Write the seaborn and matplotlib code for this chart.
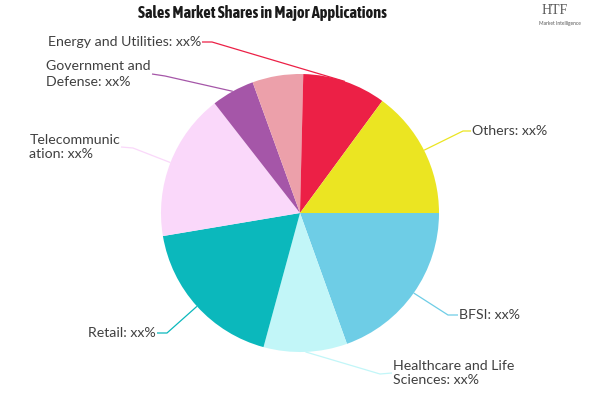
import numpy as np
import matplotlib
matplotlib.use("Agg")
import matplotlib.pyplot as plt
from matplotlib import font_manager
import seaborn as sns

# 饼图数据（顺时针，从正东方向开始）
segments = ["BFSI", "Healthcare and Life Sciences", "Retail", "Telecommunication",
            "Government and Defense", "", "Energy and Utilities", "Others"]
shares = [19.5, 9.7, 18.1, 17.1, 5.0, 5.9, 9.7, 14.9]
label_texts = ["BFSI: xx%", "Healthcare and Life\nSciences: xx%", "Retail: xx%",
               "Telecommunic\nation: xx%", "Government and\nDefense: xx%", "",
               "Energy and Utilities: xx%", "Others: xx%"]
colors = ["#6ecde6", "#c2f6f8", "#0bb8bc", "#fad8fa", "#a556a8",
          "#eca0aa", "#ec2046", "#ebe522"]

sns.set_theme(style="white")
plt.rcParams["font.family"] = ["Lato", "DejaVu Sans"]

# 标题用窄体字
narrow = [f for f in font_manager.fontManager.ttflist
          if ("Narrow" in f.name or "Condensed" in f.name)]
narrow.sort(key=lambda f: 0 if f.weight in ("bold", 700) else 1)
title_family = [narrow[0].name, "DejaVu Sans"] if narrow else ["DejaVu Sans"]

fig = plt.figure(figsize=(6, 4), dpi=100)
ax = fig.add_axes([0, 0, 1, 1])

cx, cy, r = 300, 400 - 213, 139
wedges, _ = ax.pie(shares, colors=sns.color_palette(colors), startangle=0,
                   counterclock=False, center=(cx, cy), radius=r,
                   wedgeprops=dict(linewidth=0), frame=True)
ax.set_xlim(0, 600)
ax.set_ylim(0, 400)
ax.set_aspect("equal")
ax.axis("off")

# 标签位置 (elbow x, elbow y, text x, text y, ha) — 图像坐标
label_pos = [
    (448, 315, 458, 315, "left"),
    (380, 374, 392, 373, "left"),
    (167, 333, 157, 333, "right"),
    (133, 148, 121, 147, "right"),
    (165, 76, 152, 74, "right"),
    None,
    (212, 42, 202, 42, "right"),
    (463, 131, 471, 131, "left"),
]

for w, txt, col, pos in zip(wedges, label_texts, colors, label_pos):
    if pos is None:
        continue
    mid = np.deg2rad((w.theta1 + w.theta2) / 2)
    x0 = cx + r * np.cos(mid)
    y0 = cy + r * np.sin(mid)
    ex, ey, tx, ty, ha = pos
    ax.plot([x0, ex, tx], [y0, 400 - ey, 400 - ty], color=col, lw=0.9,
            solid_capstyle="butt")
    ax.text(tx + (1 if ha == "left" else -1), 400 - ty, txt, ha=ha, va="center",
            multialignment="left", fontsize=10.2, color="#404040", linespacing=1.3)

ax.text(262, 400 - 13, "Sales Market Shares in Major Applications", ha="center",
        va="center", fontsize=11.8, fontweight="bold", color="#1a1a1a",
        family=title_family)

# logo
ax.text(555, 400 - 11, "HTF", ha="center", va="center", fontsize=10,
        color="#555555", family=["Liberation Serif", "DejaVu Serif"])
ax.text(560, 400 - 24, "Market Intelligence", ha="center", va="center",
        fontsize=3.5, color="#555555")

fig.savefig("out.png", dpi=100)
